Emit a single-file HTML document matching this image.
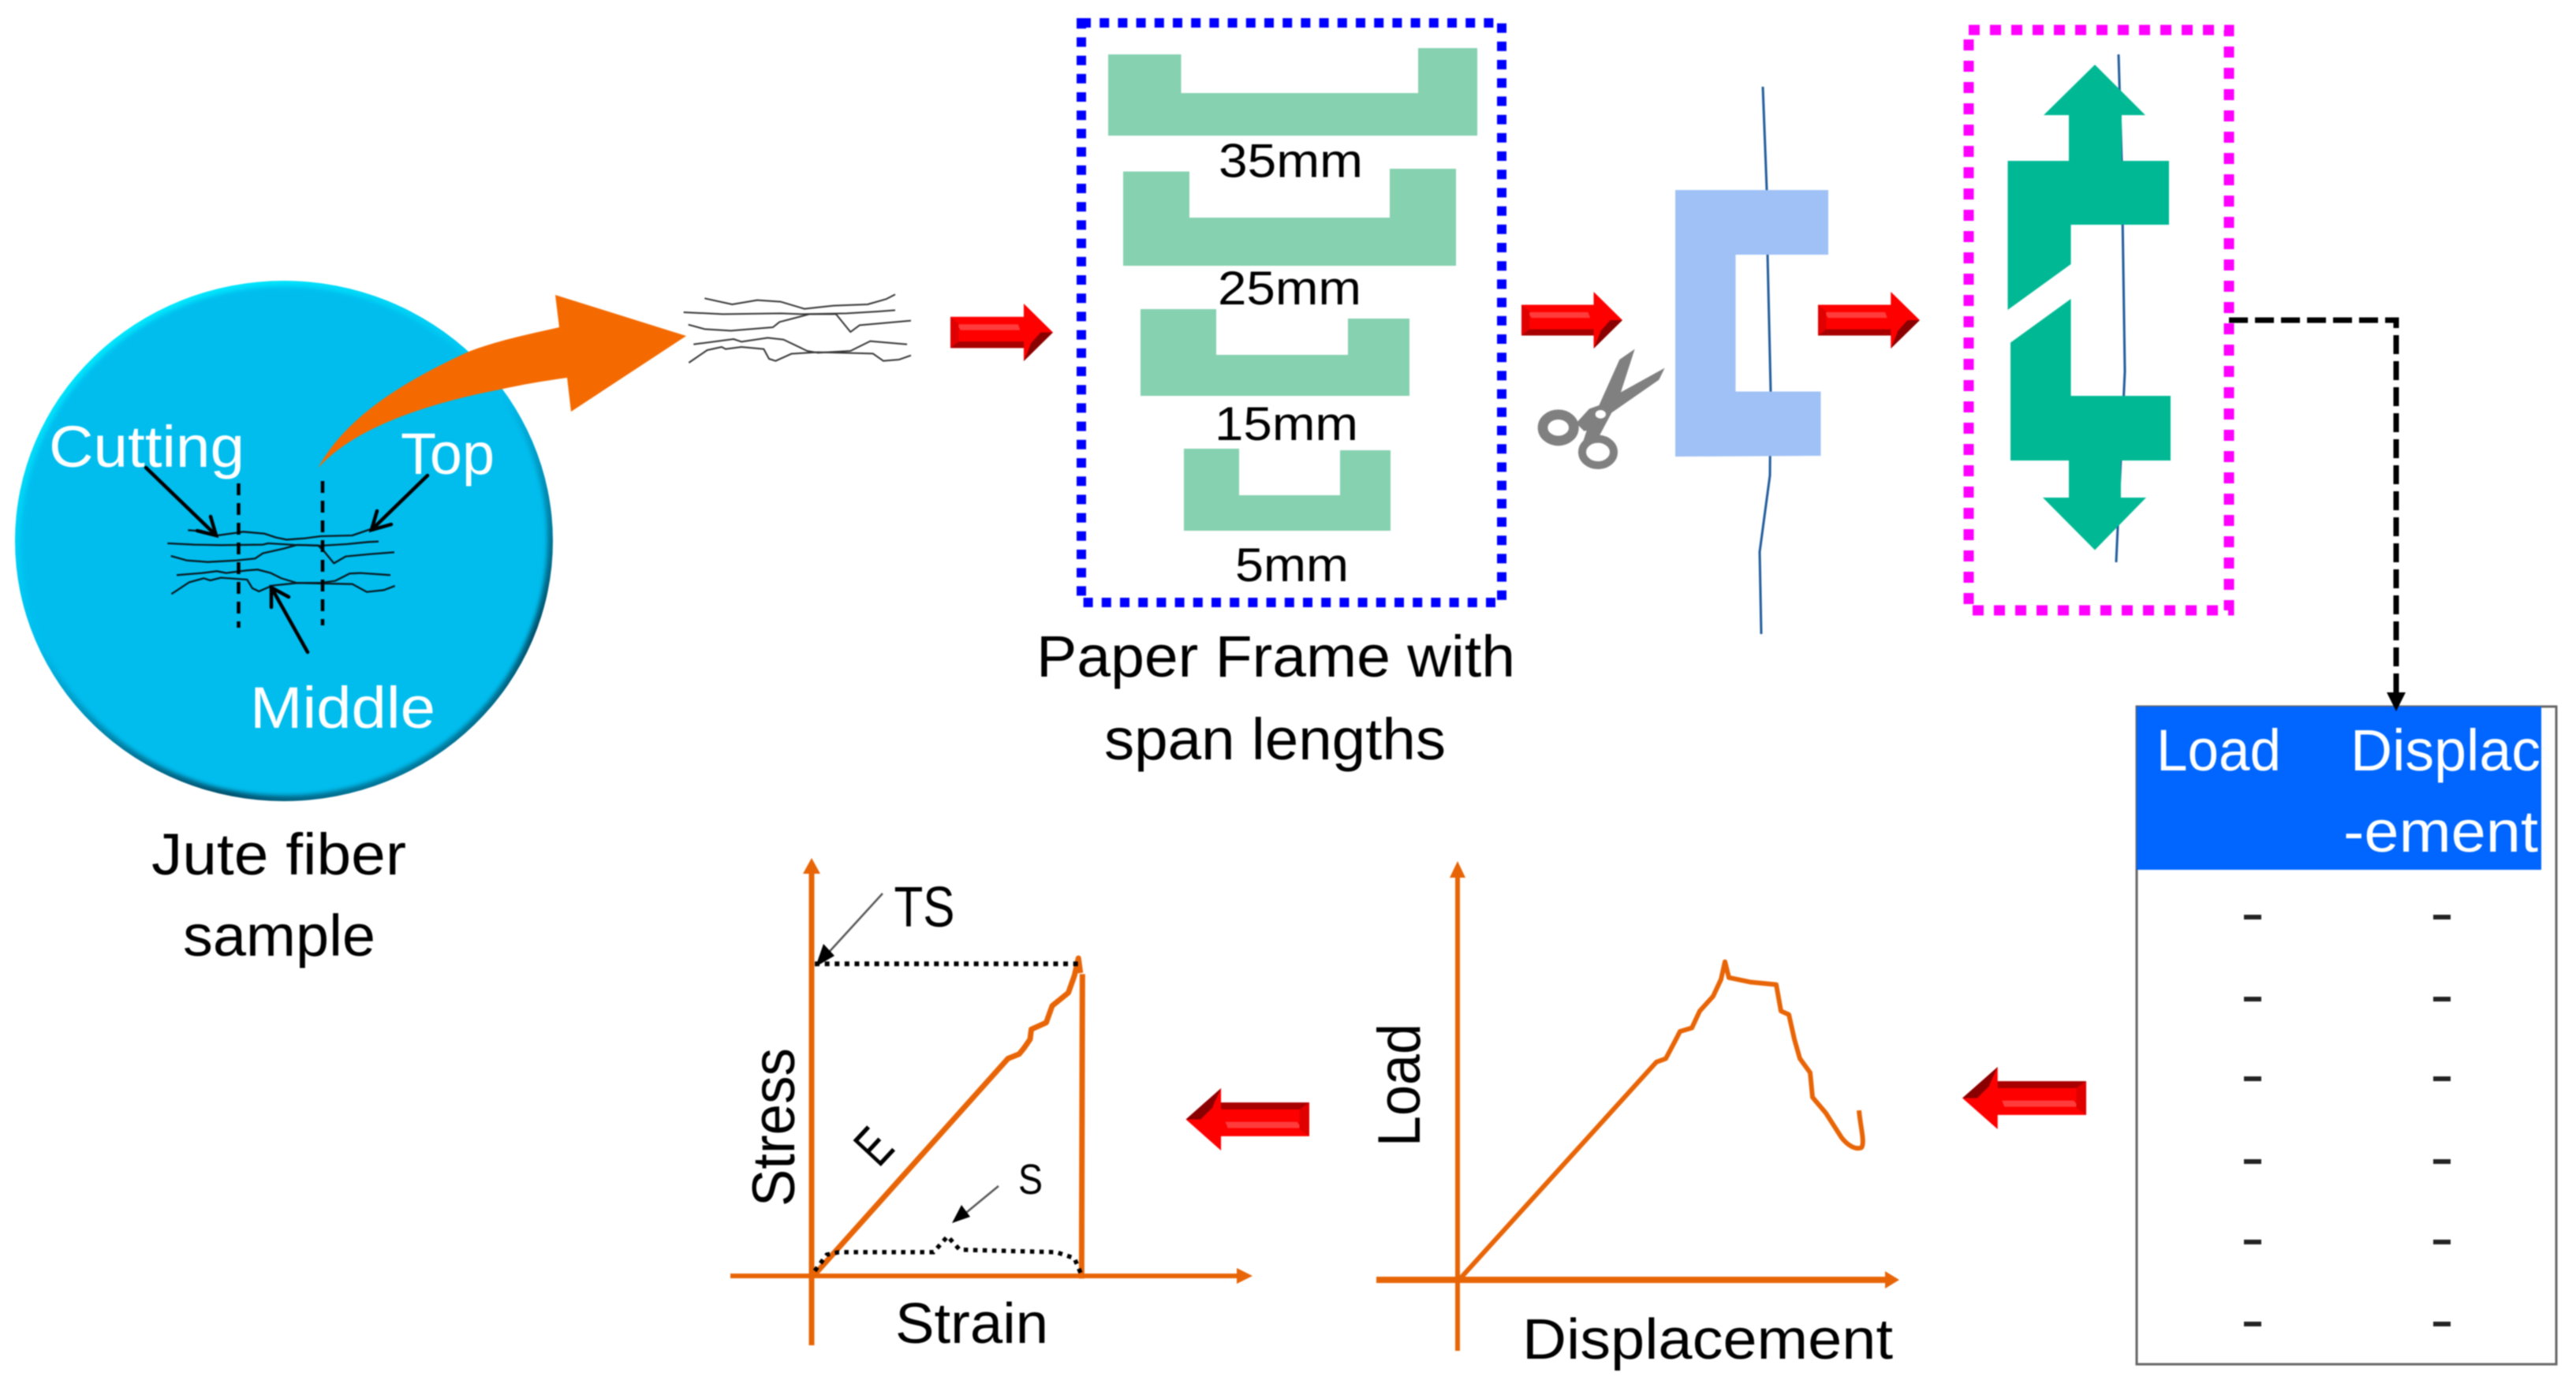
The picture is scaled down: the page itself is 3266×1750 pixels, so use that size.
<!DOCTYPE html>
<html lang="en">
<head>
<meta charset="utf-8">
<title>Jute fiber tensile test workflow</title>
<style>
html,body{margin:0;padding:0;background:#fff;width:3266px;height:1750px;overflow:hidden}
svg{display:block;filter:blur(0.7px)}
text{font-family:"Liberation Sans",sans-serif;fill:#000}
.w{fill:#fff}
.ns{vector-effect:non-scaling-stroke}
.org{fill:none;stroke:#e86507;stroke-linejoin:round;stroke-linecap:butt}
</style>
</head>
<body>
<svg xmlns="http://www.w3.org/2000/svg" width="3266" height="1750" viewBox="0 0 3266 1750">
<defs>
  <linearGradient id="bev" x1="0.25" y1="0" x2="0.8" y2="1">
    <stop offset="0" stop-color="#00ecff"/>
    <stop offset="0.45" stop-color="#00bdee"/>
    <stop offset="0.82" stop-color="#00506c"/>
    <stop offset="1" stop-color="#0090b8"/>
  </linearGradient>
  <filter id="b2" x="-5%" y="-5%" width="110%" height="110%"><feGaussianBlur stdDeviation="3"/></filter>
  <g id="ra">
    <polygon points="0,23 71.5,23 71.5,0 100,50 71.5,100 71.5,77 0,77" fill="#ff0000"/>
    <polygon points="0,77 71.5,77 71.5,66 8,66" fill="#a80000"/>
    <polygon points="71.5,100 100,50 88,50 78,70 78,72" fill="#8a0000"/>
    <polygon points="6,36 66,36 68,46 10,46" fill="#ff3c3c"/>
    <polygon points="0,23 8,34 8,66 0,77" fill="#e00000"/>
  </g>
</defs>

<!-- Sample circle -->
<ellipse cx="360" cy="686" rx="341" ry="330" fill="url(#bev)"/>
<ellipse cx="360" cy="686" rx="334" ry="323" fill="#00bdee" filter="url(#b2)"/>

<!-- Curved orange arrow -->
<path d="M403 594 C 440 525 520 480 594 446 C 630 432 670 424 709 415 L704 374 L870 426 L724 522 L719 479 C 690 483 660 488 634 494 C 550 510 450 540 403 594 Z" fill="#f46a00"/>

<text x="62" y="592" font-size="74" class="w" textLength="248" lengthAdjust="spacingAndGlyphs">Cutting</text>
<text x="508" y="601" font-size="74" class="w" textLength="119" lengthAdjust="spacingAndGlyphs">Top</text>
<text x="317" y="923" font-size="74" class="w" textLength="235" lengthAdjust="spacingAndGlyphs">Middle</text>
<text x="192" y="1109" font-size="74" textLength="323" lengthAdjust="spacingAndGlyphs">Jute fiber</text>
<text x="232" y="1212" font-size="74" textLength="244" lengthAdjust="spacingAndGlyphs">sample</text>

<!-- fibers in circle -->
<g transform="translate(180,540) scale(0.3333)" fill="none" stroke="#0a1a20" stroke-width="7" stroke-linejoin="round">
  <path d="M175 397 L215 400 L280 418 L360 407 L385 403 L465 410 L510 425 L550 433 L620 428 L680 420 L800 417 L870 393"/>
  <path d="M97 447 L200 452 L300 454 L460 452 L480 447 L580 453 L680 456 L780 450 L860 442 L900 440"/>
  <path d="M110 495 L170 512 L250 518 L360 512 L430 505 L460 485 L540 467 L590 453 L670 455 L695 480 L730 523 L775 497 L870 488 L960 481"/>
  <path d="M132 568 L230 560 L285 553 L320 560 L400 550 L440 547 L490 560 L530 580 L590 598 L680 597 L735 590 L790 562 L830 560 L945 568"/>
  <path d="M112 640 L180 595 L235 580 L260 588 L300 578 L400 585 L420 618 L445 630 L495 608 L590 598 L800 602 L855 632 L920 625 L962 609"/>
</g>
<g fill="none" stroke="#000" stroke-width="4.5">
  <line x1="302.5" y1="613" x2="302.5" y2="796" stroke-dasharray="15 10"/>
  <line x1="409" y1="610" x2="409" y2="793" stroke-dasharray="15 10"/>
  <path d="M185 593 L274 679 M267 655 L274 679 L250 673" stroke-linecap="round"/>
  <path d="M542 603 L471 672 M478 648 L471 672 L496 665" stroke-linecap="round"/>
  <path d="M390 827 L344 745 M344 770 L344 745 L366 757" stroke-linecap="round"/>
</g>

<!-- fibers separated -->
<g transform="translate(840,340) scale(0.3333)" fill="none" stroke="#333" stroke-width="6" stroke-linejoin="round">
  <path d="M160 115 L265 138 L360 122 L450 128 L540 155 L650 143 L780 138 L850 118 L885 100"/>
  <path d="M80 168 L230 175 L450 172 L530 175 L700 172 L820 165 L885 160"/>
  <path d="M98 215 L160 232 L260 238 L420 225 L445 205 L560 175 L660 175 L715 243 L750 217 L945 200"/>
  <path d="M118 290 L270 270 L300 280 L400 265 L460 272 L550 315 L590 322 L715 315 L790 278 L930 290"/>
  <path d="M100 360 L170 312 L225 300 L240 308 L300 300 L385 308 L405 345 L430 353 L490 326 L590 320 L800 325 L840 353 L900 348 L945 332"/>
</g>

<!-- red arrows -->
<use href="#ra" transform="translate(1205,385) scale(1.30,0.73)"/>
<use href="#ra" transform="translate(1929,370) scale(1.28,0.72)"/>
<use href="#ra" transform="translate(2305,370) scale(1.29,0.72)"/>
<use href="#ra" transform="translate(1660,1459) scale(-1.565,-0.79)"/>
<use href="#ra" transform="translate(2645,1432) scale(-1.57,-0.79)"/>

<!-- Blue dotted frame -->
<rect x="1371" y="29" width="533" height="735" fill="none" stroke="#0000ff" stroke-width="12" stroke-dasharray="12 11.2"/>
<g fill="#85d1b0">
  <polygon points="1405,69 1497.5,69 1497.5,118 1798,118 1798,61 1873,61 1873,172 1405,172"/>
  <polygon points="1424,217.5 1508,217.5 1508,276 1762,276 1762,214 1846,214 1846,337 1424,337"/>
  <polygon points="1446,392 1542,392 1542,450 1709,450 1709,404 1787,404 1787,502 1446,502"/>
  <polygon points="1501,569 1571,569 1571,628 1699,628 1699,571 1763,571 1763,673 1501,673"/>
</g>
<text x="1545" y="224.5" font-size="60" textLength="183" lengthAdjust="spacingAndGlyphs">35mm</text>
<text x="1544" y="386" font-size="60" textLength="182" lengthAdjust="spacingAndGlyphs">25mm</text>
<text x="1540" y="558" font-size="60" textLength="182" lengthAdjust="spacingAndGlyphs">15mm</text>
<text x="1566" y="737" font-size="60" textLength="144" lengthAdjust="spacingAndGlyphs">5mm</text>
<text x="1314" y="858" font-size="74" textLength="607" lengthAdjust="spacingAndGlyphs">Paper Frame with</text>
<text x="1400" y="963" font-size="74" textLength="433" lengthAdjust="spacingAndGlyphs">span lengths</text>

<!-- Fiber and light-blue C -->
<polyline points="2235,110 2240,241 2241,323 2245,497 2244,603 2231,700 2233,804" fill="none" stroke="#1f5b9a" stroke-width="3"/>
<polygon points="2124,241 2318,241 2318,323 2200.5,323 2200.5,496.5 2308.5,496.5 2308.5,578 2124,579" fill="#9fc1f6"/>

<!-- Scissors -->
<g transform="translate(1940,420) scale(0.3333)">
  <path d="M398 68 L340 108 L262 282 L225 295 L175 350 L205 380 L215 378 L195 440 L240 420 L265 395 L310 310 L490 185 L512 140 L345 232 Z" fill="#808080"/>
  <ellipse cx="107" cy="367" rx="59" ry="50" fill="none" stroke="#808080" stroke-width="38"/>
  <ellipse cx="258" cy="460" rx="60" ry="50" fill="none" stroke="#808080" stroke-width="30"/>
  <ellipse cx="268" cy="316" rx="20" ry="16" fill="#fff"/>
</g>

<!-- Magenta dotted frame -->
<polyline points="2686,69 2690,204 2694,471 2683,713" fill="none" stroke="#1f5b9a" stroke-width="3"/>
<polygon fill="#00b994" points="2656,82 2720,146 2690,146 2690,204 2750,204 2750,285 2625.6,285 2625.6,335 2545.5,393 2545.5,204 2623,204 2623,146 2591,146"/>
<polygon fill="#00b994" points="2625.6,379 2625.6,502 2752,502 2752,584 2689,584 2689,631 2721,631 2656,697.5 2590,631 2623,631 2623,584 2549,584 2549,434.5"/>
<rect x="2496" y="38" width="330" height="736" fill="none" stroke="#ff00ff" stroke-width="13" stroke-dasharray="14 13"/>

<!-- Dashed elbow connector -->
<polyline points="2826,406 3038,406 3038,880" fill="none" stroke="#000" stroke-width="7" stroke-dasharray="24 9"/>

<!-- Table -->
<rect x="2709" y="896" width="532" height="834" fill="#fff" stroke="#666" stroke-width="3"/>
<rect x="2709" y="896" width="513" height="207" fill="#0066ff"/>
<polygon points="3026,878 3050,878 3038,902" fill="#000"/>
<text x="2734" y="977" font-size="74" class="w" textLength="158" lengthAdjust="spacingAndGlyphs">Load</text>
<text x="2980" y="977" font-size="74" class="w" textLength="241" lengthAdjust="spacingAndGlyphs">Displac</text>
<text x="2971" y="1080" font-size="74" class="w" textLength="247" lengthAdjust="spacingAndGlyphs">-ement</text>
<g fill="#222">
  <rect x="2845" y="1160" width="22" height="6"/><rect x="3085" y="1160" width="22" height="6"/>
  <rect x="2845" y="1264" width="22" height="6"/><rect x="3085" y="1264" width="22" height="6"/>
  <rect x="2845" y="1365" width="22" height="6"/><rect x="3085" y="1365" width="22" height="6"/>
  <rect x="2845" y="1470" width="22" height="6"/><rect x="3085" y="1470" width="22" height="6"/>
  <rect x="2845" y="1572" width="22" height="6"/><rect x="3085" y="1572" width="22" height="6"/>
  <rect x="2845" y="1676" width="22" height="6"/><rect x="3085" y="1676" width="22" height="6"/>
</g>

<!-- Stress-strain graph -->
<line x1="1029" y1="1706" x2="1029" y2="1105" stroke="#e86507" stroke-width="7"/>
<polygon points="1029,1088 1040,1108 1018,1108" fill="#e86507"/>
<line x1="926" y1="1618" x2="1570" y2="1618" stroke="#e86507" stroke-width="6"/>
<polygon points="1588,1618 1568,1608 1568,1628" fill="#e86507"/>
<g transform="translate(880,1050) scale(0.5102,0.4464)">
  <path class="org ns" stroke-width="7" d="M300 1268 L780 655 L808 642 L820 625 L835 600 L838 572 L875 553 L890 505 L930 468 L945 420 L955 370 L960 412"/>
  <path class="org ns" stroke-width="7" d="M965 415 L963 1280"/>
  <path class="ns" fill="none" stroke="#000" stroke-width="6" stroke-dasharray="6 6.6" d="M300 386 L955 386"/>
  <path class="ns" fill="none" stroke="#000" stroke-width="5.5" stroke-dasharray="5.5 6.5" d="M300 1258 L330 1212 L360 1205 L595 1205 L630 1160 L660 1198 L900 1205 L945 1222 L962 1268"/>
</g>
<line x1="1119" y1="1133" x2="1045" y2="1214" stroke="#555" stroke-width="2.5"/>
<polygon points="1034,1226 1044,1197 1058,1212" fill="#000"/>
<line x1="1266" y1="1504" x2="1215" y2="1546" stroke="#555" stroke-width="2.5"/>
<polygon points="1207,1551 1219,1528 1230,1543" fill="#000"/>
<text x="1133.5" y="1175" font-size="72" textLength="77" lengthAdjust="spacingAndGlyphs">TS</text>
<text x="1291" y="1514" font-size="54" textLength="31" lengthAdjust="spacingAndGlyphs">S</text>
<text transform="translate(1007,1530) rotate(-90)" font-size="76" textLength="201" lengthAdjust="spacingAndGlyphs">Stress</text>
<text transform="translate(1114,1482) rotate(-47)" font-size="70" textLength="33" lengthAdjust="spacingAndGlyphs">E</text>
<text x="1135" y="1703" font-size="72" textLength="194" lengthAdjust="spacingAndGlyphs">Strain</text>

<!-- Load-displacement graph -->
<line x1="1848" y1="1713" x2="1848" y2="1110" stroke="#e86507" stroke-width="6"/>
<polygon points="1848,1092 1858,1113 1838,1113" fill="#e86507"/>
<line x1="1745" y1="1623" x2="2392" y2="1623" stroke="#e86507" stroke-width="8"/>
<polygon points="2408,1623 2390,1612 2390,1634" fill="#e86507"/>
<g transform="translate(1700,1050) scale(1,0.4464)">
  <path class="org ns" stroke-width="6" d="M150 1283 L400 665 L412 655 L425 600 L430 578 L445 568 L455 520 L472 478 L482 430 L487 380 L492 425 L520 438 L552 445 L558 520 L568 530 L575 600 L582 655 L595 695 L598 765 L615 810 L635 880 C 642 900 652 915 660 908 C 665 895 658 840 657 802"/>
</g>
<text transform="translate(1800,1454) rotate(-90)" font-size="76" textLength="156" lengthAdjust="spacingAndGlyphs">Load</text>
<text x="1930" y="1723" font-size="72" textLength="470" lengthAdjust="spacingAndGlyphs">Displacement</text>
</svg>
</body>
</html>
